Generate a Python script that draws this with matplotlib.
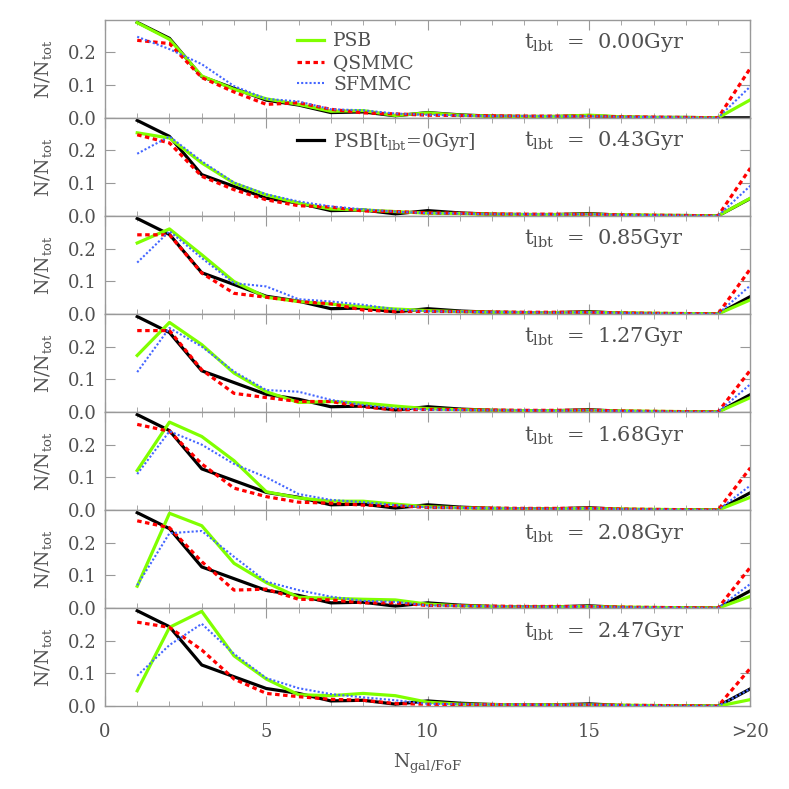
import matplotlib
matplotlib.use("Agg")
import matplotlib.pyplot as plt
import numpy as np

plt.rcParams["font.family"] = ["DejaVu Serif"]
plt.rcParams["mathtext.fontset"] = "dejavuserif"

# ***********************
# DATA
# ***********************

n_gal = list(range(1, 21))  # last bin is ">20"
t_lbt = ["0.00", "0.43", "0.85", "1.27", "1.68", "2.08", "2.47"]

psb = [
    [0.291, 0.240, 0.128, 0.087, 0.058, 0.041, 0.020, 0.022, 0.007, 0.015, 0.008, 0.005, 0.004, 0.004, 0.008, 0.003, 0.001, 0.001, 0.0, 0.055],
    [0.254, 0.238, 0.162, 0.100, 0.064, 0.039, 0.021, 0.018, 0.013, 0.008, 0.007, 0.005, 0.004, 0.004, 0.005, 0.003, 0.002, 0.001, 0.0, 0.054],
    [0.217, 0.260, 0.181, 0.099, 0.051, 0.038, 0.030, 0.022, 0.015, 0.010, 0.007, 0.005, 0.004, 0.004, 0.005, 0.003, 0.002, 0.001, 0.0, 0.043],
    [0.173, 0.274, 0.206, 0.119, 0.062, 0.029, 0.032, 0.027, 0.018, 0.010, 0.007, 0.005, 0.004, 0.004, 0.005, 0.003, 0.002, 0.001, 0.0, 0.044],
    [0.121, 0.269, 0.225, 0.151, 0.056, 0.037, 0.027, 0.027, 0.018, 0.010, 0.007, 0.005, 0.004, 0.004, 0.005, 0.003, 0.002, 0.001, 0.0, 0.039],
    [0.067, 0.290, 0.252, 0.137, 0.078, 0.033, 0.030, 0.027, 0.025, 0.012, 0.007, 0.005, 0.004, 0.004, 0.005, 0.003, 0.002, 0.001, 0.0, 0.036],
    [0.047, 0.241, 0.290, 0.154, 0.083, 0.035, 0.032, 0.039, 0.032, 0.012, 0.006, 0.005, 0.004, 0.004, 0.004, 0.003, 0.002, 0.001, 0.0, 0.020],
]

qsmmc = [
    [0.237, 0.227, 0.123, 0.079, 0.041, 0.046, 0.026, 0.015, 0.012, 0.008, 0.007, 0.006, 0.005, 0.005, 0.005, 0.003, 0.002, 0.001, 0.0, 0.152],
    [0.248, 0.223, 0.121, 0.080, 0.049, 0.031, 0.027, 0.015, 0.013, 0.009, 0.008, 0.006, 0.005, 0.005, 0.005, 0.003, 0.002, 0.001, 0.0, 0.146],
    [0.242, 0.242, 0.125, 0.063, 0.051, 0.038, 0.031, 0.012, 0.007, 0.008, 0.007, 0.006, 0.005, 0.005, 0.005, 0.003, 0.002, 0.001, 0.0, 0.138],
    [0.249, 0.249, 0.129, 0.057, 0.044, 0.032, 0.032, 0.016, 0.006, 0.008, 0.007, 0.006, 0.005, 0.005, 0.006, 0.003, 0.002, 0.001, 0.0, 0.128],
    [0.262, 0.241, 0.141, 0.067, 0.041, 0.024, 0.021, 0.015, 0.013, 0.008, 0.007, 0.006, 0.005, 0.005, 0.006, 0.003, 0.002, 0.001, 0.0, 0.129],
    [0.267, 0.246, 0.142, 0.055, 0.058, 0.027, 0.025, 0.016, 0.016, 0.008, 0.007, 0.006, 0.005, 0.005, 0.005, 0.003, 0.002, 0.001, 0.0, 0.125],
    [0.257, 0.241, 0.172, 0.083, 0.039, 0.029, 0.021, 0.018, 0.008, 0.006, 0.005, 0.005, 0.004, 0.004, 0.004, 0.003, 0.002, 0.001, 0.0, 0.116],
]

sfmmc = [
    [0.248, 0.210, 0.164, 0.097, 0.058, 0.050, 0.026, 0.023, 0.013, 0.009, 0.007, 0.005, 0.005, 0.004, 0.005, 0.003, 0.002, 0.001, 0.0, 0.096],
    [0.190, 0.243, 0.167, 0.102, 0.066, 0.044, 0.029, 0.020, 0.013, 0.008, 0.007, 0.005, 0.005, 0.004, 0.005, 0.003, 0.002, 0.001, 0.0, 0.092],
    [0.157, 0.253, 0.171, 0.094, 0.084, 0.045, 0.038, 0.028, 0.014, 0.008, 0.007, 0.005, 0.005, 0.004, 0.005, 0.003, 0.002, 0.001, 0.0, 0.087],
    [0.122, 0.257, 0.200, 0.124, 0.067, 0.062, 0.037, 0.021, 0.011, 0.007, 0.006, 0.005, 0.005, 0.004, 0.005, 0.003, 0.002, 0.001, 0.0, 0.085],
    [0.110, 0.241, 0.200, 0.141, 0.100, 0.049, 0.031, 0.024, 0.015, 0.008, 0.007, 0.005, 0.005, 0.004, 0.005, 0.003, 0.002, 0.001, 0.0, 0.075],
    [0.070, 0.229, 0.236, 0.157, 0.081, 0.055, 0.035, 0.022, 0.019, 0.008, 0.007, 0.005, 0.005, 0.004, 0.005, 0.003, 0.002, 0.001, 0.0, 0.074],
    [0.093, 0.187, 0.252, 0.160, 0.086, 0.055, 0.037, 0.027, 0.018, 0.007, 0.006, 0.005, 0.005, 0.004, 0.005, 0.003, 0.002, 0.001, 0.0, 0.053],
]

# PSB at t_lbt = 0, repeated as reference in the lower panels
psb_t0 = [0.292, 0.243, 0.126, 0.090, 0.054, 0.039, 0.016, 0.018, 0.006, 0.016, 0.009, 0.005, 0.004, 0.004, 0.007, 0.002, 0.001, 0.001, 0.0, 0.053]
# in the top panel the reference line drops to zero in the last bin
psb_t0_top = [0.292, 0.243, 0.126, 0.090, 0.054, 0.039, 0.016, 0.018, 0.006, 0.016, 0.009, 0.005, 0.004, 0.004, 0.007, 0.002, 0.001, 0.001, 0.0, 0.0]

# ***********************
# PLOT
# ***********************

text_col = "#505050"
axis_col = "#999999"

fig, axes = plt.subplots(7, 1, figsize=(7.89, 7.89), dpi=100, sharex=True)
plt.subplots_adjust(left=0.133, right=0.951, top=0.975, bottom=0.105, hspace=0)

for i, ax in enumerate(axes):
    black = psb_t0_top if i == 0 else psb_t0
    lk, = ax.plot(n_gal, black, color="black", lw=2.3, zorder=2,
                  label="PSB[t$_{\\rm lbt}$=0Gyr]")
    lg, = ax.plot(n_gal, psb[i], color="#80ff00", lw=2.3, zorder=3, label="PSB")
    lr, = ax.plot(n_gal, qsmmc[i], color="red", lw=2.3, ls=(0, (1.4, 1.1)),
                  zorder=4, label="QSMMC")
    lb, = ax.plot(n_gal, sfmmc[i], color="#4466ff", lw=1.5, ls=(0, (1, 1)),
                  zorder=5, label="SFMMC")

    ax.set_xlim(0, 20)
    ax.set_ylim(0, 0.3)
    ax.set_yticks([0.0, 0.1, 0.2])
    ax.set_yticklabels(["0.0", "0.1", "0.2"])
    ax.set_xticks([0, 5, 10, 15, 20])
    ax.set_xticks(range(0, 21), minor=True)
    ax.tick_params(which="both", direction="in", top=True, right=True,
                   color=axis_col, labelcolor=text_col, labelsize=13)
    ax.tick_params(which="major", length=7)
    ax.tick_params(which="minor", length=3.5)
    ax.tick_params(axis="y", pad=6)
    for s in ax.spines.values():
        s.set_color(axis_col)
        s.set_linewidth(1.0)

    ax.set_ylabel("N/N$_{\\rm tot}$", fontsize=13.5, color=text_col, labelpad=10)
    ax.text(0.65, 0.765, "t$_{\\rm lbt}$  =  " + t_lbt[i] + "Gyr",
            transform=ax.transAxes, fontsize=15, color=text_col,
            ha="left", va="center")

    if i == 0:
        ax.legend(handles=[lg, lr, lb], loc="upper left",
                  bbox_to_anchor=(0.298, 0.87), frameon=False, fontsize=13.5,
                  handlelength=1.45, handletextpad=0.45, labelspacing=0.2,
                  borderpad=0, borderaxespad=0, labelcolor=text_col)
    if i == 1:
        ax.legend(handles=[lk], loc="upper left",
                  bbox_to_anchor=(0.298, 0.87), frameon=False, fontsize=13.5,
                  handlelength=1.45, handletextpad=0.45,
                  borderpad=0, borderaxespad=0, labelcolor=text_col)

axes[-1].set_xticklabels(["0", "5", "10", "15", ">20"])
axes[-1].tick_params(axis="x", pad=12)
axes[-1].set_xlabel("N$_{\\rm gal/FoF}$", fontsize=13.5, color=text_col, labelpad=8)

plt.savefig("out.png", dpi=100)
